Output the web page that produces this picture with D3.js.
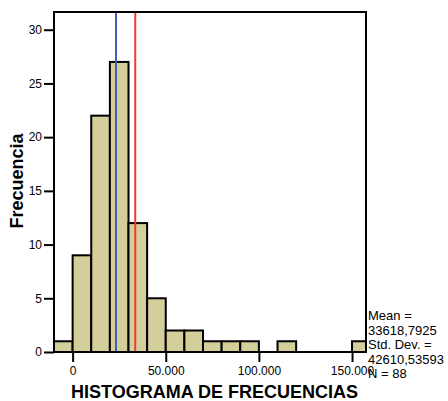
<!DOCTYPE html>
<html><head><meta charset="utf-8">
<script src="https://cdn.jsdelivr.net/npm/d3@7"></script>
<style>body{margin:0;background:#fff}svg{display:block}</style>
</head><body>
<svg id="c" width="448" height="401"></svg>
<script>
const binStarts = [-10000,0,10000,20000,30000,40000,50000,60000,70000,80000,90000,100000,110000,120000,130000,140000,150000];
const counts    = [1,9,22,27,12,5,2,2,1,1,1,0,1,0,0,0,1];
const binWidth = 10000;
const xTicks = [0,50000,100000,150000];
const xTickLabels = ["0","50.000","100.000","150.000"];
const yTicks = [0,5,10,15,20,25,30];
const meanValue = 33618.7925;
const medianValue = 23300;
const statsLines = ["Mean =","33618,7925","Std. Dev. =","42610,53593","N = 88"];

const L=54, R=366, T=12, B=352;
const svg = d3.select("#c");
const x = d3.scaleLinear().domain([-10000,157500]).range([L,R]);
const y = d3.scaleLinear().domain([0,31.65]).range([B,T]);
const font = "'Liberation Sans', Arial, sans-serif";

svg.append("clipPath").attr("id","clip").append("rect").attr("x",L).attr("y",T).attr("width",R-L).attr("height",B-T);

const g = svg.append("g").attr("clip-path","url(#clip)");
g.selectAll("rect.bar").data(binStarts.map((s,i)=>({s,c:counts[i]})).filter(d=>d.c>0))
 .enter().append("rect").attr("class","bar")
 .attr("x",d=>x(d.s)).attr("width",d=>x(d.s+binWidth)-x(d.s))
 .attr("y",d=>y(d.c)).attr("height",d=>y(0)-y(d.c))
 .attr("fill","#d3ce9a").attr("stroke","#000").attr("stroke-width",2);

g.append("line").attr("x1",x(medianValue)).attr("x2",x(medianValue)).attr("y1",T).attr("y2",B)
 .attr("stroke","#3f5cb8").attr("stroke-width",2);
g.append("line").attr("x1",x(meanValue)).attr("x2",x(meanValue)).attr("y1",T).attr("y2",B)
 .attr("stroke","#f03a3a").attr("stroke-width",2);

// frame
svg.append("rect").attr("x",L).attr("y",T).attr("width",R-L).attr("height",B-T)
 .attr("fill","none").attr("stroke","#000").attr("stroke-width",2);

// x axis
const xAxis = d3.axisBottom(x).tickValues(xTicks).tickSize(10).tickPadding(4)
 .tickFormat((d,i)=>xTickLabels[i]);
const xg = svg.append("g").attr("transform",`translate(0,${B})`).call(xAxis);
xg.select(".domain").remove();
xg.selectAll("line").attr("stroke","#000").attr("stroke-width",2);
xg.selectAll("text").attr("font-family",font).attr("font-size",12).attr("fill","#000");

// y axis
const yAxis = d3.axisLeft(y).tickValues(yTicks).tickSize(10).tickPadding(2);
const yg = svg.append("g").attr("transform",`translate(${L},0)`).call(yAxis);
yg.select(".domain").remove();
yg.selectAll("line").attr("stroke","#000").attr("stroke-width",2);
yg.selectAll("text").attr("font-family",font).attr("font-size",12).attr("fill","#000");

// titles
svg.append("text").attr("x",214.5).attr("y",397.5).attr("text-anchor","middle")
 .attr("font-family",font).attr("font-weight","bold").attr("font-size",18).text("HISTOGRAMA DE FRECUENCIAS");
svg.append("text").attr("transform","translate(23,181) rotate(-90)").attr("text-anchor","middle")
 .attr("font-family",font).attr("font-weight","bold").attr("font-size",18).text("Frecuencia");

// stats
svg.append("g").selectAll("text").data(statsLines).enter().append("text")
 .attr("x",368).attr("y",(d,i)=>320+i*14.6)
 .attr("font-family",font).attr("font-size",13).attr("fill","#000").text(d=>d);
</script>
</body></html>
